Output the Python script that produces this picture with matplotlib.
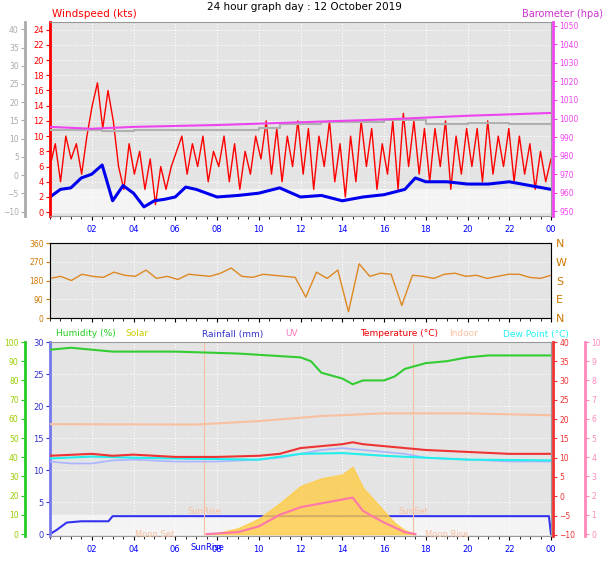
import numpy as np
import matplotlib.pyplot as plt

W, H = 608, 561

# ---- data ----
gust = [6, 9, 4, 10, 7, 9, 5, 10,
        14, 17, 11, 16, 12, 6, 3, 9,
        5, 8, 3, 7, 1, 6, 3, 6,
        8, 10, 5, 9, 6, 10, 4, 8,
        6, 10, 4, 9, 3, 8, 5, 10,
        7, 12, 5, 11, 4, 10, 6, 12,
        5, 11, 3, 10, 6, 12, 4, 9,
        2, 10, 4, 12, 6, 11, 3, 9,
        5, 12, 3, 13, 6, 12, 5, 11,
        4, 11, 6, 12, 3, 10, 5, 11,
        6, 11, 4, 12, 5, 10, 6, 11,
        4, 10, 5, 9, 3, 8, 4, 7]
avg_t = [0, 0.5, 1, 1.5, 2, 2.5, 3, 3.5, 4, 4.5, 5, 5.5, 6, 6.5, 7, 7.5, 8, 9, 10, 11, 12,
         13, 14, 15, 16, 17, 17.5, 18, 19, 20, 21, 22, 23, 24]
avg_wind = [2, 3, 3.2, 4.5, 5, 6.2, 1.5, 3.5, 2.5, 0.7, 1.5, 1.7, 2, 3.3, 3, 2.5, 2, 2.2, 2.5,
            3.2, 2, 2.2, 1.5, 2, 2.3, 3, 4.5, 4, 4, 3.7, 3.7, 4, 3.5, 3]
baro_t = [0, 2, 4, 8, 12, 16, 20, 24]
baro = [995.5, 994.5, 995.5, 996.5, 998, 999.5, 1001.5, 1003]
gray_t = [0, 2, 2.5, 3.5, 4, 8, 10, 11, 13, 16, 18, 20, 22, 24]
gray = [12.5, 12.5, 12, 12, 12.5, 12.5, 13, 14, 14.5, 15, 14, 14.3, 14, 14]

wdir = [190, 200, 180, 210, 200, 195, 220, 205, 200, 230, 190, 200, 185, 210, 205, 200,
        215, 240, 200, 195, 210, 205, 200, 195, 100, 220, 190, 230, 30, 260, 200, 215,
        210, 60, 205, 200, 190, 210, 215, 200, 205, 190, 200, 210, 210, 195, 190, 205]

hum_t = [0, 1, 2, 3, 6, 9, 12, 12.5, 13, 14, 14.5, 15, 16, 16.5, 17, 18, 19, 20, 21, 24]
humidity = [96, 97, 96, 95, 95, 94, 92, 90, 84, 81, 78, 80, 80, 82, 86, 89, 90, 92, 93, 93]
temp_t = [0, 2, 3, 4, 5, 6, 8, 10, 11, 12, 13, 14, 14.5, 15, 16, 17, 18, 20, 22, 24]
temp = [10.5, 11, 10.5, 10.8, 10.5, 10.2, 10.2, 10.5, 11, 12.5, 13, 13.5, 14, 13.5, 13, 12.5,
        12, 11.5, 11, 11]
dew_t = [0, 2, 4, 6, 10, 12, 14, 16, 18, 20, 24]
dew = [9.8, 10.3, 10, 9.8, 9.5, 11, 11.2, 10.5, 10, 9.5, 9.3]
app_t = [0, 1, 2, 3, 4, 6, 8, 10, 11, 12, 13, 14, 15, 16, 17, 18, 20, 22, 24]
apparent = [9, 8.5, 8.5, 9.3, 9.5, 9, 9, 9.5, 10, 11, 12, 12.5, 12, 11.5, 11, 10, 9.5, 9, 9]
indoor_t = [0, 7, 10, 13, 16, 20, 24]
indoor = [18.7, 18.6, 19.5, 20.8, 21.5, 21.5, 21]
solar_t = [7.5, 8, 9, 10, 11, 12, 13, 14, 14.5, 15, 16, 16.5, 17, 17.5]
solar = [0, 0.05, 0.3, 0.8, 1.6, 2.5, 2.9, 3.1, 3.5, 2.4, 1.2, 0.6, 0.2, 0]
uv_t = [7.5, 9, 10, 11, 12, 13, 14, 14.5, 15, 16, 17, 17.5]
uv = [0, 0.1, 0.4, 1, 1.4, 1.6, 1.8, 1.9, 1.2, 0.6, 0.1, 0]
rain_t = [0, 0.3, 0.8, 1.5, 2.8, 3, 23.9, 24]
rain = [0, 0.6, 1.8, 2.0, 2.0, 2.8, 2.8, 0]

hour_ticks = list(range(2, 25, 2))
hour_labels = ['%02d' % (h % 24) for h in hour_ticks]


def box(l, t, r, b):
    return [l / W, 1 - b / H, (r - l) / W, (b - t) / H]


def style(ax, labels=True):
    ax.set_facecolor('#e4e4e4')
    ax.set_xlim(0, 24)
    ax.set_xticks(hour_ticks)
    if labels:
        ax.set_xticklabels(hour_labels, color='blue', fontsize=6)
    else:
        ax.set_xticklabels([])
    ax.set_xticks(np.arange(0, 24.1, 0.5), minor=True)
    ax.grid(True, color='white', linestyle=':', linewidth=0.8)
    for s in ax.spines.values():
        s.set_color('#999999')
    ax.tick_params(length=3, width=0.8)


def side_axis(ax, side, offset, lo, hi, step, col, fs=5.5):
    # offset in pixels
    a = ax.twinx()
    a.set_ylim(lo, hi)
    a.yaxis.set_ticks_position(side)
    a.spines[side].set_position(('outward', offset * 0.72))
    a.spines[side].set_color(col)
    a.spines[side].set_linewidth(2)
    a.set_yticks(np.arange(lo, hi + 0.01, step))
    a.tick_params(axis='y', colors=col, labelsize=fs, length=3, pad=1.5)
    for s in ['top', 'bottom', 'left', 'right']:
        if s != side:
            a.spines[s].set_visible(False)
    return a


fig = plt.figure(figsize=(W / 100, H / 100), dpi=100)
fig.patch.set_facecolor('white')
fig.text(0.5, 1 - 7 / H, '24 hour graph day : 12 October 2019', ha='center', va='center', fontsize=7.5)

# ---- panel 1: wind and pressure ----
ax1 = fig.add_axes(box(50, 22, 551, 216))
style(ax1)
ax1.axhspan(0, 3, color='#f4f4f4', zorder=0)
ax1.set_ylim(-0.5, 25)
ax1.set_yticks(range(0, 25, 2))
ax1.tick_params(axis='y', colors='red', labelsize=6, pad=1.5)
ax1.spines['left'].set_color('red')
ax1.spines['left'].set_linewidth(2)
ax1.plot(np.linspace(0, 24, len(gust)), gust, color='red', lw=1)
ax1.plot(avg_t, avg_wind, color='#0000ee', lw=2.2)
gax = side_axis(ax1, 'left', 25, -10, 40, 5, '#aaaaaa')
gax.set_ylim(-11.2, 42)
gax.plot(gray_t, gray, color='#b0b0b0', lw=1.5, drawstyle='steps-post')
bax = side_axis(ax1, 'right', 2, 950, 1050, 10, '#ee44ee')
bax.set_ylim(947.5, 1052)
bax.plot(baro_t, baro, color='#ee44ee', lw=1.5)
fig.text(52 / W, 1 - 14 / H, 'Windspeed (kts)', color='red', fontsize=7.5, va='center')
fig.text(603 / W, 1 - 14 / H, 'Barometer (hpa)', color='#cc33cc', fontsize=7, va='center', ha='right')

# ---- panel 2: wind direction ----
ax2 = fig.add_axes(box(50, 243, 551, 318))
style(ax2, labels=False)
ax2.set_ylim(0, 360)
ax2.set_yticks(range(0, 361, 90))
ax2.tick_params(axis='y', colors='#cc7700', labelsize=5.5, pad=1.5)
ax2.plot(np.linspace(0, 24, len(wdir)), wdir, color='#dd8822', lw=1)
dax = ax2.twinx()
dax.set_ylim(0, 360)
dax.set_yticks(range(0, 361, 90))
dax.set_yticklabels(['N', 'E', 'S', 'W', 'N'])
dax.tick_params(axis='y', colors='#cc7700', labelsize=8, length=0)

# ---- panel 3: temperature / humidity / rain ----
ax3 = fig.add_axes(box(50, 342, 551, 536))
style(ax3)
ax3.axhspan(0, 3, color='#f4f4f4', zorder=0)
ax3.set_ylim(-0.3, 30)
ax3.set_yticks(range(0, 31, 5))
ax3.tick_params(axis='y', colors='#3333cc', labelsize=6, pad=1.5)
ax3.spines['left'].set_color('#7777ee')
ax3.spines['left'].set_linewidth(2)
ax3.plot(rain_t, rain, color='#3333ee', lw=1.5)
hax = side_axis(ax3, 'left', 25, 0, 100, 10, '#22cc22')
hax.tick_params(axis='y', labelcolor='#99cc00')
hax.set_ylim(-1, 100)
hax.plot(hum_t, humidity, color='#33cc33', lw=1.5)
uax = side_axis(ax3, 'right', 34, 0, 10, 1, '#ff88bb')
uax.set_ylim(-0.1, 10)
uax.fill_between(solar_t, solar, color='#ffcc44', alpha=0.8)
uax.plot(uv_t, uv, color='#ff77aa', lw=1.5)
tax = side_axis(ax3, 'right', 2, -10, 40, 5, '#ee3333')
tax.set_ylim(-10.3, 40)
tax.plot(indoor_t, indoor, color='#f8c0a0', lw=1.5)
tax.plot(app_t, apparent, color='#aab4ff', lw=1.2)
tax.plot(dew_t, dew, color='#22eeee', lw=1.5)
tax.plot(temp_t, temp, color='#ee3333', lw=1.5)
for x, lab in [(7.4, 'SunRise'), (17.4, 'SunSet')]:
    ax3.axvline(x, color='#f8c0a0', lw=0.8)
    tax.text(x, -5, lab, color='#f8c0a0', fontsize=6, ha='center', va='bottom')
tax.text(5, -10, 'Moon Set', color='#f8c0a0', fontsize=6, ha='center', va='center')
tax.text(19, -10, 'Moon Rise', color='#f8c0a0', fontsize=6, ha='center', va='center')
fig.text(207 / W, 1 - 547 / H, 'SunRise', color='blue', fontsize=6, ha='center', va='center')

for x, lab, col in [(56, 'Humidity (%)', '#22cc22'), (125, 'Solar', '#cccc00'),
                    (202, 'Rainfall (mm)', '#3333cc'), (285, 'UV', '#ff77bb'),
                    (360, 'Temperature (°C)', '#ee0000'), (449, 'Indoor', '#f8c0a0'),
                    (503, 'Dew Point (°C)', '#22eeee')]:
    fig.text(x / W, 1 - 334 / H, lab, color=col, fontsize=6.5, va='center')

fig.savefig('out.png', dpi=100)
